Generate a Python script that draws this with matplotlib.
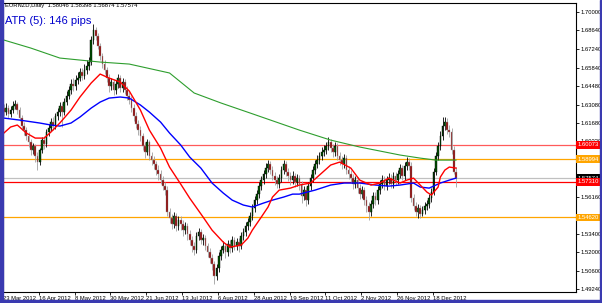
import numpy as np
import matplotlib.pyplot as plt
import matplotlib.transforms as mtransforms
from matplotlib.patches import Rectangle

plt.rcParams['font.family'] = ['Liberation Sans', 'DejaVu Sans']

# EURNZD daily bars (open of each bar = previous close)
first_open = 1.6282
closes = [
    1.6252, 1.6282, 1.6237, 1.6267, 1.6297, 1.6312, 1.6267, 1.6207, 1.6147, 1.6117,
    1.6072, 1.6027, 1.5967, 1.5997, 1.5922, 1.5877, 1.5967, 1.6042, 1.6012, 1.6102,
    1.6132, 1.6177, 1.6147, 1.6222, 1.6252, 1.6297, 1.6252, 1.6327, 1.6372, 1.6417,
    1.6462, 1.6447, 1.6492, 1.6507, 1.6552, 1.6522, 1.6567, 1.6597, 1.6627, 1.6792,
    1.6867, 1.6822, 1.6747, 1.6672, 1.6612, 1.6567, 1.6507, 1.6447, 1.6477, 1.6417,
    1.6462, 1.6507, 1.6432, 1.6477, 1.6417, 1.6372, 1.6342, 1.6282, 1.6222, 1.6162,
    1.6117, 1.6072, 1.5997, 1.5952, 1.6027, 1.5922, 1.5892, 1.5862, 1.5817, 1.5787,
    1.5742, 1.5697, 1.5667, 1.5502, 1.5457, 1.5412, 1.5472, 1.5397, 1.5442, 1.5412,
    1.5367, 1.5397, 1.5337, 1.5292, 1.5247, 1.5217, 1.5322, 1.5352, 1.5292, 1.5307,
    1.5247, 1.5202, 1.5157, 1.5112, 1.5022, 1.5082, 1.5172, 1.5217, 1.5247, 1.5202,
    1.5262, 1.5232, 1.5292, 1.5247, 1.5277, 1.5247, 1.5322, 1.5352, 1.5397, 1.5427,
    1.5472, 1.5532, 1.5592, 1.5637, 1.5697, 1.5742, 1.5787, 1.5832, 1.5862, 1.5817,
    1.5772, 1.5742, 1.5712, 1.5757, 1.5817, 1.5862, 1.5802, 1.5772, 1.5742, 1.5772,
    1.5727, 1.5757, 1.5712, 1.5622, 1.5667, 1.5592, 1.5697, 1.5757, 1.5817, 1.5862,
    1.5892, 1.5922, 1.5952, 1.5967, 1.5997, 1.6027, 1.5982, 1.5952, 1.5997, 1.5922,
    1.5892, 1.5862, 1.5907, 1.5817, 1.5787, 1.5757, 1.5712, 1.5742, 1.5682, 1.5637,
    1.5667, 1.5592, 1.5547, 1.5502, 1.5562, 1.5622, 1.5592, 1.5667, 1.5712, 1.5742,
    1.5697, 1.5742, 1.5757, 1.5712, 1.5772, 1.5742, 1.5787, 1.5832, 1.5772, 1.5847,
    1.5877, 1.5847, 1.5607, 1.5547, 1.5502, 1.5532, 1.5487, 1.5517, 1.5547, 1.5562,
    1.5607, 1.5652, 1.5802, 1.5922, 1.5997, 1.6072, 1.6147, 1.6177, 1.6117, 1.6102,
    1.5967, 1.58046, 1.57574]
highs = [
    1.6312, 1.6320, 1.6305, 1.6297, 1.6335, 1.6342, 1.6327, 1.6290, 1.6230, 1.6177,
    1.6140, 1.6102, 1.6050, 1.6020, 1.6012, 1.5952, 1.5982, 1.6065, 1.6072, 1.6125,
    1.6162, 1.6207, 1.6215, 1.6245, 1.6282, 1.6327, 1.6320, 1.6357, 1.6410, 1.6447,
    1.6500, 1.6507, 1.6530, 1.6552, 1.6582, 1.6582, 1.6612, 1.6642, 1.6665, 1.6822,
    1.6912, 1.6890, 1.6845, 1.6770, 1.6695, 1.6642, 1.6590, 1.6537, 1.6507, 1.6500,
    1.6492, 1.6537, 1.6530, 1.6507, 1.6500, 1.6447, 1.6402, 1.6372, 1.6312, 1.6252,
    1.6192, 1.6147, 1.6095, 1.6027, 1.6050, 1.6042, 1.5952, 1.5922, 1.5885, 1.5855,
    1.5817, 1.5772, 1.5727, 1.5697, 1.5532, 1.5487, 1.5502, 1.5495, 1.5472, 1.5472,
    1.5442, 1.5427, 1.5420, 1.5367, 1.5322, 1.5277, 1.5352, 1.5382, 1.5375, 1.5337,
    1.5330, 1.5270, 1.5232, 1.5187, 1.5135, 1.5112, 1.5202, 1.5247, 1.5285, 1.5270,
    1.5292, 1.5292, 1.5322, 1.5315, 1.5307, 1.5307, 1.5352, 1.5382, 1.5427, 1.5457,
    1.5502, 1.5562, 1.5622, 1.5667, 1.5727, 1.5772, 1.5817, 1.5870, 1.5892, 1.5885,
    1.5847, 1.5802, 1.5772, 1.5787, 1.5847, 1.5892, 1.5885, 1.5832, 1.5802, 1.5810,
    1.5795, 1.5787, 1.5780, 1.5735, 1.5697, 1.5690, 1.5727, 1.5787, 1.5847, 1.5892,
    1.5930, 1.5952, 1.5990, 1.6005, 1.6027, 1.6065, 1.6050, 1.6012, 1.6027, 1.6020,
    1.5952, 1.5922, 1.5937, 1.5930, 1.5847, 1.5817, 1.5787, 1.5772, 1.5765, 1.5712,
    1.5697, 1.5690, 1.5622, 1.5577, 1.5592, 1.5652, 1.5652, 1.5697, 1.5742, 1.5780,
    1.5772, 1.5772, 1.5795, 1.5787, 1.5802, 1.5802, 1.5817, 1.5862, 1.5855, 1.5877,
    1.5915, 1.5907, 1.5877, 1.5637, 1.5577, 1.5562, 1.5555, 1.5547, 1.5577, 1.5592,
    1.5637, 1.5682, 1.5832, 1.5952, 1.6027, 1.6110, 1.6215, 1.6215, 1.6207, 1.6155,
    1.6132, 1.5997, 1.58398]
lows = [
    1.6222, 1.6230, 1.6207, 1.6215, 1.6245, 1.6275, 1.6237, 1.6185, 1.6117, 1.6080,
    1.6042, 1.5990, 1.5930, 1.5937, 1.5877, 1.5817, 1.5855, 1.5945, 1.5975, 1.5990,
    1.6072, 1.6110, 1.6117, 1.6125, 1.6192, 1.6222, 1.6140, 1.6230, 1.6305, 1.6350,
    1.6387, 1.6410, 1.6417, 1.6462, 1.6485, 1.6492, 1.6500, 1.6537, 1.6567, 1.6605,
    1.6762, 1.6792, 1.6725, 1.6642, 1.6582, 1.6537, 1.6477, 1.6402, 1.6417, 1.6380,
    1.6387, 1.6432, 1.6402, 1.6402, 1.6387, 1.6342, 1.6312, 1.6252, 1.6185, 1.6132,
    1.6080, 1.6035, 1.5967, 1.5907, 1.5930, 1.5892, 1.5855, 1.5825, 1.5780, 1.5742,
    1.5712, 1.5667, 1.5630, 1.5472, 1.5420, 1.5375, 1.5382, 1.5360, 1.5367, 1.5367,
    1.5322, 1.5337, 1.5292, 1.5255, 1.5202, 1.5180, 1.5195, 1.5292, 1.5262, 1.5255,
    1.5217, 1.5165, 1.5120, 1.5067, 1.4962, 1.4992, 1.5052, 1.5142, 1.5195, 1.5157,
    1.5172, 1.5195, 1.5202, 1.5217, 1.5217, 1.5202, 1.5225, 1.5292, 1.5322, 1.5367,
    1.5397, 1.5442, 1.5502, 1.5562, 1.5607, 1.5667, 1.5712, 1.5757, 1.5802, 1.5787,
    1.5742, 1.5705, 1.5682, 1.5682, 1.5727, 1.5787, 1.5772, 1.5735, 1.5705, 1.5712,
    1.5690, 1.5697, 1.5667, 1.5570, 1.5592, 1.5547, 1.5562, 1.5667, 1.5727, 1.5787,
    1.5832, 1.5862, 1.5892, 1.5922, 1.5937, 1.5967, 1.5952, 1.5915, 1.5922, 1.5892,
    1.5855, 1.5825, 1.5832, 1.5787, 1.5750, 1.5720, 1.5675, 1.5682, 1.5645, 1.5600,
    1.5607, 1.5555, 1.5502, 1.5442, 1.5472, 1.5532, 1.5555, 1.5562, 1.5637, 1.5682,
    1.5667, 1.5667, 1.5712, 1.5682, 1.5682, 1.5705, 1.5712, 1.5757, 1.5742, 1.5742,
    1.5817, 1.5817, 1.5577, 1.5517, 1.5472, 1.5457, 1.5457, 1.5472, 1.5487, 1.5517,
    1.5532, 1.5577, 1.5630, 1.5780, 1.5892, 1.5967, 1.6042, 1.6117, 1.6087, 1.6065,
    1.5937, 1.5787, 1.56874]

# moving averages, sampled along the drawn lines (bar index, price)
red_bars = [0, 3, 6, 10, 14, 18, 21, 25, 30, 34, 39, 43, 47, 52, 56, 61, 65, 70, 74, 79,
            83, 89, 93, 98, 101, 106, 109, 111, 115, 118, 120, 123, 128, 132, 137, 141,
            146, 150, 155, 159, 164, 168, 172, 177, 180, 183, 186, 189, 191, 194, 195,
            197, 199, 202]
red_vals = [1.6095, 1.6140, 1.6155, 1.6095, 1.6057, 1.6057, 1.6102, 1.6170, 1.6267, 1.6365,
            1.6470, 1.6537, 1.6507, 1.6477, 1.6410, 1.6267, 1.6117, 1.5982, 1.5840, 1.5712,
            1.5607, 1.5465, 1.5367, 1.5277, 1.5240, 1.5255, 1.5307, 1.5367, 1.5465, 1.5540,
            1.5615, 1.5667, 1.5682, 1.5705, 1.5720, 1.5780, 1.5855, 1.5877, 1.5832, 1.5742,
            1.5705, 1.5720, 1.5757, 1.5720, 1.5742, 1.5757, 1.5705, 1.5652, 1.5630, 1.5690,
            1.5765, 1.5817, 1.5840, 1.5832]
blue_bars = [0, 7, 16, 21, 25, 30, 34, 39, 43, 47, 52, 56, 61, 65, 70, 74, 79, 83, 88, 93,
             98, 102, 107, 111, 116, 120, 125, 129, 132, 139, 146, 152, 159, 166, 172, 177,
             183, 186, 190, 195, 199, 202]
blue_vals = [1.6207, 1.6192, 1.6170, 1.6155, 1.6147, 1.6170, 1.6215, 1.6282, 1.6327, 1.6357,
             1.6365, 1.6357, 1.6305, 1.6252, 1.6177, 1.6095, 1.6005, 1.5915, 1.5832, 1.5720,
             1.5645, 1.5592, 1.5555, 1.5540, 1.5570, 1.5592, 1.5615, 1.5637, 1.5637, 1.5667,
             1.5705, 1.5720, 1.5720, 1.5705, 1.5697, 1.5705, 1.5720, 1.5690, 1.5682, 1.5720,
             1.5742, 1.5757]
green_bars = [0, 12, 25, 43, 56, 74, 85, 97, 110, 132, 146, 159, 177, 186, 193, 202]
green_vals = [1.6792, 1.6732, 1.6657, 1.6627, 1.6612, 1.6545, 1.6395, 1.6320, 1.6245, 1.6117,
              1.6042, 1.5990, 1.5930, 1.5907, 1.5892, 1.5892]

# horizontal levels and their axis tags
levels = [1.60073, 1.58994, 1.57574, 1.57310, 1.54620]
level_line_colors = ['#ff5a5a', '#ffa500', '#c0c0c0', '#ff0000', '#ffa500']
level_tag_colors = ['#ff0000', '#ffa500', '#000000', '#ff0000', '#ffa500']

price_ticks = [1.70000, 1.68640, 1.67240, 1.65840, 1.64480, 1.63080, 1.61680, 1.60320,
               1.58920, 1.57520, 1.56160, 1.54760, 1.53400, 1.52000, 1.50600, 1.49240]
# these tick labels sit under the level tags in the original
hidden_ticks = [1.58920, 1.57520, 1.54760]
date_ticks = [0, 16, 32, 48, 64, 80, 96, 112, 128, 144, 160, 176, 192]
date_labels = ['23 Mar 2012', '16 Apr 2012', '8 May 2012', '30 May 2012', '21 Jun 2012',
               '13 Jul 2012', '6 Aug 2012', '28 Aug 2012', '19 Sep 2012', '11 Oct 2012',
               '2 Nov 2012', '26 Nov 2012', '18 Dec 2012']

W, H = 602, 303
fig = plt.figure(figsize=(W / 100, H / 100), dpi=100)
ax = fig.add_axes([3 / W, 11.5 / H, 573 / W, 288.5 / H])

c = np.array(closes)
o = np.concatenate([[first_open], c[:-1]])
hi = np.maximum(np.array(highs), np.maximum(o, c))
lo = np.minimum(np.array(lows), np.minimum(o, c))
x = np.arange(len(c))
up = c >= o

# candles
ax.vlines(x[up], lo[up], hi[up], color='black', lw=0.6, zorder=3)
ax.vlines(x[~up], lo[~up], hi[~up], color='#a0a0a0', lw=0.6, zorder=3)
ax.bar(x[up], c[up] - o[up], bottom=o[up], width=0.75, color='#005000',
       edgecolor='black', lw=0.3, zorder=4)
ax.bar(x[~up], c[~up] - o[~up], bottom=o[~up], width=0.75, color='#8b0000',
       edgecolor='#a0a0a0', lw=0.3, zorder=4)

# moving averages
ax.plot(green_bars, green_vals, color='#2e9e2e', lw=0.8, zorder=5)
ax.plot(blue_bars, blue_vals, color='#0000ff', lw=1.0, zorder=5)
ax.plot(red_bars, red_vals, color='#ff0000', lw=1.0, zorder=5)

# levels
blend = mtransforms.blended_transform_factory(ax.transAxes, ax.transData)
for lv, lc, tc in zip(levels, level_line_colors, level_tag_colors):
    ax.axhline(lv, color=lc, lw=0.9, zorder=2)
    ax.text(1.003, lv, f'{lv:.5f}', transform=blend, fontsize=4.2, color='white',
            va='center', ha='left', zorder=10, clip_on=False,
            bbox=dict(boxstyle='square,pad=0.25', fc=tc, ec='none'))

ax.set_xlim(-0.22, 255.6)
ax.set_ylim(1.49070, 1.70697)

ax.yaxis.tick_right()
ax.set_yticks(price_ticks)
ax.set_yticklabels(['' if p in hidden_ticks else f'{p:.5f}' for p in price_ticks])
ax.tick_params(axis='y', direction='out', length=2, width=0.6, pad=1.5, labelsize=4.2)
ax.set_xticks([d - 0.4 for d in date_ticks])
ax.set_xticklabels(date_labels, ha='left')
ax.tick_params(axis='x', direction='out', length=2.5, width=0.6, pad=1, labelsize=4.2)
for s in ax.spines.values():
    s.set_linewidth(0.8)

# window frame
for rect in [(0, 0, 3, H), (W - 2, 0, 2, H), (0, 0, W, 3)]:
    fig.patches.append(Rectangle((rect[0] / W, rect[1] / H), rect[2] / W, rect[3] / H,
                                 transform=fig.transFigure, color='#3a3ab0', zorder=0))

fig.text(5 / W, 1 - 6 / H, 'EURNZD,Daily  1.58046 1.58398 1.56874 1.57574',
         fontsize=4.2, va='center', ha='left')
fig.text(5 / W, 1 - 21 / H, 'ATR (5): 146 pips', fontsize=8, color='#0000cc',
         va='center', ha='left')

fig.savefig('out.png', dpi=100)
